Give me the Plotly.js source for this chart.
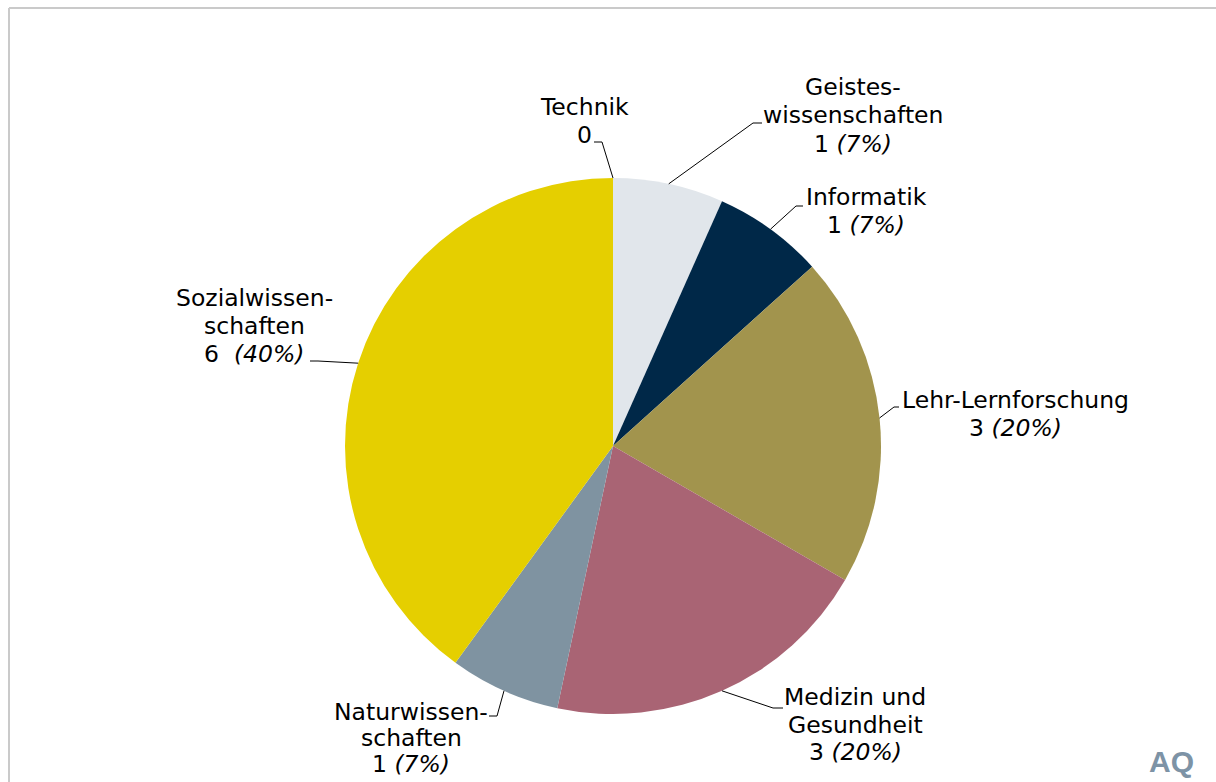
<!DOCTYPE html>
<html>
<head>
<meta charset="utf-8">
<script src="https://cdn.plot.ly/plotly-3.0.1.min.js"></script>
<style>html,body{margin:0;padding:0;background:#fff;}#chart{width:1216px;height:782px;}</style>
</head>
<body>
<div id="chart"></div>
<script>
// ---- data ----
const categories = ["Technik", "Geisteswissenschaften", "Informatik", "Lehr-Lernforschung", "Medizin und Gesundheit", "Naturwissenschaften", "Sozialwissenschaften"];
const labelLines = [["Technik"], ["Geistes-", "wissenschaften"], ["Informatik"], ["Lehr-Lernforschung"], ["Medizin und", "Gesundheit"], ["Naturwissen-", "schaften"], ["Sozialwissen-", "schaften"]];
const values = [0, 1, 1, 3, 3, 1, 6];
const colors = ["#e1e6eb", "#e1e6eb", "#002848", "#a2944d", "#a96474", "#7f93a1", "#e5cf00"];

// ---- layout geometry (pixels) ----
const W = 1216, H = 782;
const cx = 613, cy = 446, R = 268;
// label block: center x, first line center y, line gap
const labelPos = [[584, 107], [853, 87], [866, 197], [1015, 400], [855, 697], [411, 712], [254, 298]];
const lineGaps = [28.3, 28.3, 28.3, 28.3, 27.6, 26.2, 28.0];
const elbow = [[602, 142], [753, 123], [796, 206], [894, 407], [773, 708], [497, 716], [318, 361]];
const tail = [[594, 142], [762, 123], [803, 206], [899, 407], [783, 708], [489, 716], [310, 361]];

const px = x => x / W;
const py = y => 1 - y / H;

const total = values.reduce((a, b) => a + b, 0);
const font = {family: "DejaVu Sans, Verdana, sans-serif", size: 23.5, color: "#000000"};

const annotations = [];
const shapes = [];
let cum = 0;
values.forEach((v, i) => {
  const mid = (cum + v / 2) / total;
  cum += v;
  const th = 2 * Math.PI * mid;
  const ex = cx + R * Math.sin(th), ey = cy - R * Math.cos(th);
  shapes.push({
    type: "path", xref: "paper", yref: "paper",
    path: `M ${px(ex)} ${py(ey)} L ${px(elbow[i][0])} ${py(elbow[i][1])} L ${px(tail[i][0])} ${py(tail[i][1])}`,
    line: {color: "#000000", width: 1}
  });
  let valLine;
  if (v === 0) valLine = String(v);
  else {
    const pct = Math.round(v / total * 100);
    const sep = (i === 6) ? "\u00a0\u00a0" : " ";
    valLine = v + sep + "<i>(" + pct + "%)</i>";
  }
  const lines = labelLines[i].concat([valLine]);
  lines.forEach((t, k) => {
    annotations.push({
      xref: "paper", yref: "paper",
      x: px(labelPos[i][0]), y: py(labelPos[i][1] + k * lineGaps[i]),
      xanchor: "center", yanchor: "middle", align: "center",
      showarrow: false, text: t, font: font, borderpad: 0
    });
  });
});

// frame lines
shapes.push({type: "line", xref: "paper", yref: "paper", x0: px(9), x1: px(9), y0: py(8), y1: py(782), line: {color: "#cacaca", width: 2}});
shapes.push({type: "line", xref: "paper", yref: "paper", x0: px(9), x1: px(1216), y0: py(8), y1: py(8), line: {color: "#cacaca", width: 2}});

// logo
annotations.push({
  xref: "paper", yref: "paper", x: px(1171), y: py(761), xanchor: "center", yanchor: "middle",
  showarrow: false, text: "<b>AQ</b>",
  font: {family: "Liberation Sans Narrow, Liberation Sans, sans-serif", size: 30, color: "#7d93a6"}
});

const trace = {
  type: "pie",
  labels: categories,
  values: values,
  marker: {colors: colors, line: {width: 0}},
  sort: false,
  direction: "clockwise",
  rotation: 0,
  textinfo: "none",
  hoverinfo: "none",
  showlegend: false,
  domain: {x: [px(cx - R), px(cx + R)], y: [py(cy + R), py(cy - R)]}
};

const layout = {
  width: W, height: H,
  margin: {l: 0, r: 0, t: 0, b: 0},
  paper_bgcolor: "#ffffff",
  plot_bgcolor: "#ffffff",
  showlegend: false,
  annotations: annotations,
  shapes: shapes
};

Plotly.newPlot("chart", [trace], layout, {displayModeBar: false, staticPlot: true});
</script>
</body>
</html>
